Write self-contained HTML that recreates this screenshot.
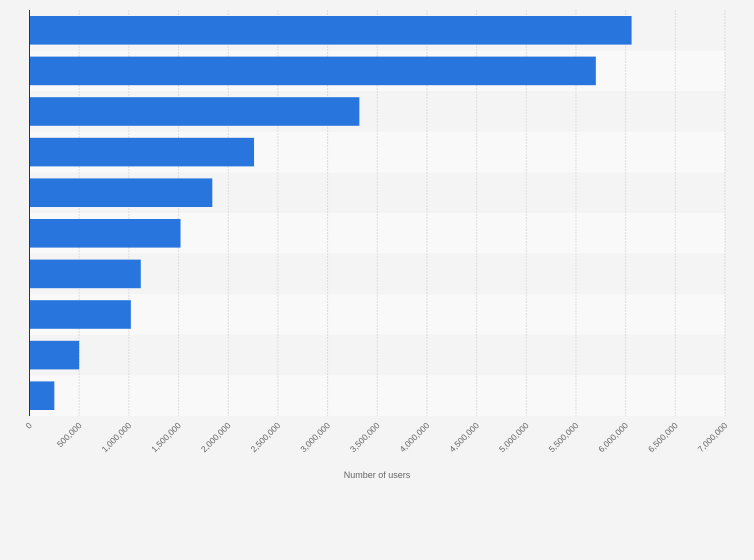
<!DOCTYPE html>
<html><head><meta charset="utf-8"><style>
body{margin:0;background:#f4f4f4;font-family:"Liberation Sans",sans-serif;}
svg{display:block}
</style></head><body>
<svg width="754" height="560" id="chart">
<rect width="754" height="560" fill="#f4f4f4"/>
<g id="rows"></g><g id="grid"></g><g id="bars"></g><g id="ticks"></g>
<line x1="29.5" y1="10" x2="29.5" y2="416" stroke="#333" stroke-width="1"/>
<text x="377" y="478" text-anchor="middle" font-size="9" fill="#666">Number of users</text>
</svg>
<script>
const values=[6060000,5700000,3320000,2260000,1840000,1520000,1120000,1020000,500000,250000];
const tickValues=[0,500000,1000000,1500000,2000000,2500000,3000000,3500000,4000000,4500000,5000000,5500000,6000000,6500000,7000000];
const tickLabels=["0","500,000","1,000,000","1,500,000","2,000,000","2,500,000","3,000,000","3,500,000","4,000,000","4,500,000","5,000,000","5,500,000","6,000,000","6,500,000","7,000,000"];
const NS="http://www.w3.org/2000/svg";
const xLeft=29.5,xRight=725,yTop=10,yBottom=416,maxV=7000000;
const xs=v=>xLeft+(xRight-xLeft)*v/maxV;
const rowH=(yBottom-yTop)/values.length;
function mk(t,a,p){const e=document.createElementNS(NS,t);for(const k in a)e.setAttribute(k,a[k]);document.getElementById(p).appendChild(e);return e;}
values.forEach((v,i)=>{
 const r=mk('rect',{x:xLeft,y:yTop+i*rowH,width:xRight-xLeft,height:rowH,fill:i%2?'#f9f9f9':'#f4f4f4'},'rows');
 
 
 const b=mk('rect',{x:xLeft,y:yTop+i*rowH+6,width:xs(v)-xLeft,height:rowH-12,fill:'#2876dd'},'bars');
 
 
});
tickValues.forEach((v,i)=>{
 const x=xs(v);
 if(i>0){const g=mk('line',{x1:x,x2:x,y1:yTop,y2:yBottom,stroke:'#ddd','stroke-dasharray':'2,1'},'grid');
 
 }
 const t=mk('text',{x:x+3,y:426,'font-size':'8.5',fill:'#666','text-anchor':'end',transform:`rotate(-45 ${x+3} 426)`},'ticks');
 t.textContent=tickLabels[i];
 
 
});
</script>
</body></html>
